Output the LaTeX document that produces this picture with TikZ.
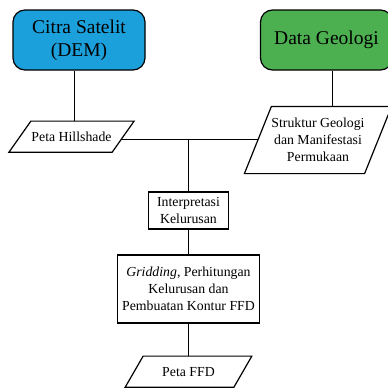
\documentclass[tikz,border=0pt]{standalone}
\usepackage{fontspec}
\setmainfont{Liberation Serif}
\usetikzlibrary{calc}
\definecolor{citrablue}{RGB}{27,160,219}
\definecolor{geogreen}{RGB}{76,175,80}

\begin{document}
\begin{tikzpicture}[x=1pt, y=-1pt, line width=1.2pt,
    sumber/.style={draw, rounded corners=12pt, minimum width=132pt, minimum height=60pt, align=center, font=\fontsize{19.5}{23}\selectfont},
    proses/.style={draw, fill=white, align=center, font=\fontsize{13.8}{16.8}\selectfont, inner sep=3pt},
    datum/.style={align=center, font=\fontsize{13.8}{16.8}\selectfont, inner sep=1pt}]
    \useasboundingbox (0,0) rectangle (388,389);
    % sumber data
    \node[sumber, fill=citrablue] (citra) at (79,40) {Citra Satelit\\(DEM)};
    \node[sumber, fill=geogreen] (geo) at (326.5,40) {Data Geologi};
    % data turunan (jajar genjang)
    \node[datum, minimum width=102pt, minimum height=30pt] (hill) at (71.5,136.7) {Peta Hillshade};
    \node[datum, minimum width=119pt, minimum height=66pt] (sg) at (318,140) {Struktur Geologi\\dan Manifestasi\\Permukaan};
    \node[datum, minimum width=107.5pt, minimum height=30pt] (ffd) at (188.5,371.7) {Peta FFD};
    \foreach \n/\s in {hill/11, sg/13.5, ffd/9}
        \draw ([xshift=\s pt]\n.north west) -- ([xshift=\s pt]\n.north east)
            -- ([xshift=-\s pt]\n.south east) -- ([xshift=-\s pt]\n.south west) -- cycle;
    % proses
    \node[proses, minimum width=80pt, minimum height=37pt] (interp) at (188.5,210.5) {Interpretasi\\Kelurusan};
    \node[proses, minimum width=142pt, minimum height=68pt] (grid) at (188.5,289) {\textit{Gridding}, Perhitungan\\Kelurusan dan\\Pembuatan Kontur FFD};
    % garis penghubung
    \coordinate (j) at ($([xshift=11pt]hill.north east)!0.59!([xshift=-11pt]hill.south east)$);
    \draw ([xshift=-4.5pt]citra.south) -- ([xshift=-4.5pt]citra.south |- hill.north);
    \draw ([xshift=6pt]geo.south) -- ([xshift=6pt]geo.south |- sg.north);
    \draw (j) -- (j -| sg.west);
    \draw (interp.north |- j) -- (interp.north);
    \draw (interp) -- (grid);
    \draw (grid) -- (ffd);
\end{tikzpicture}
\end{document}
